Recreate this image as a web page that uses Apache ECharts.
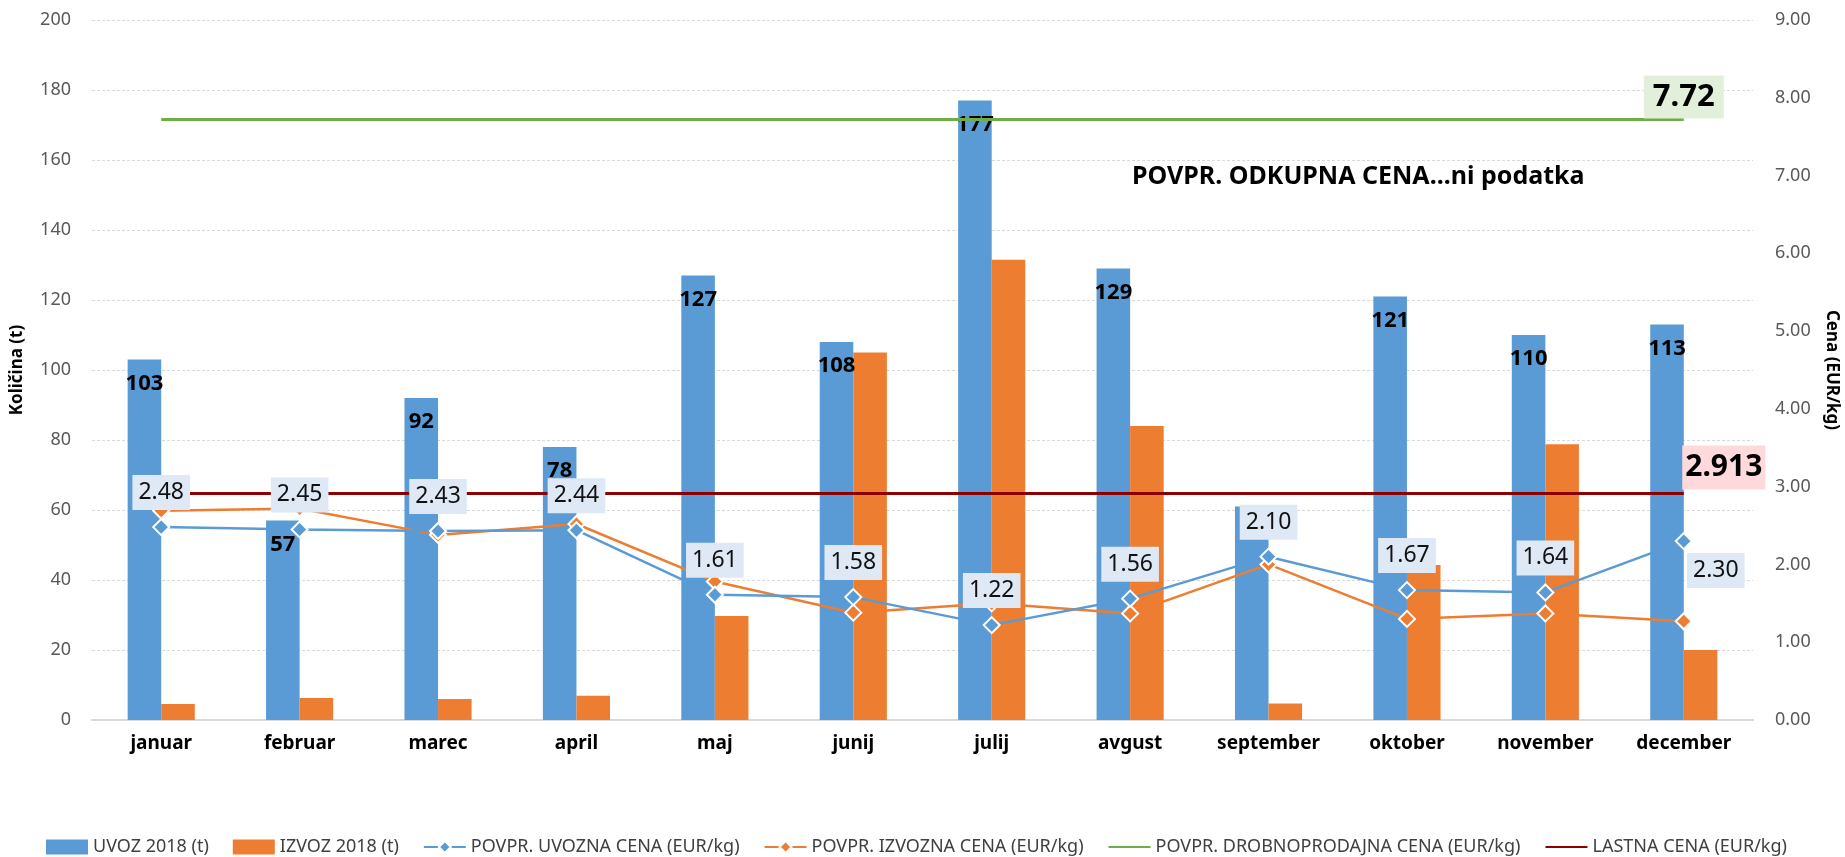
<!DOCTYPE html>
<html>
<head>
<meta charset="utf-8">
<script src="https://cdn.jsdelivr.net/npm/echarts@6/dist/echarts.min.js"></script>
<style>
  html, body { margin: 0; padding: 0; background: #fff; overflow: hidden; }
  #chart { width: 1845px; height: 857px; }
</style>
</head>
<body>
<div id="chart"></div>
<script>
const MONTHS = ['januar', 'februar', 'marec', 'april', 'maj', 'junij', 'julij', 'avgust', 'september', 'oktober', 'november', 'december']

// quantities (t)
const UVOZ   = [103, 57, 92, 78, 127, 108, 177, 129, 61, 121, 110, 113]
const IZVOZ  = [4.6, 6.3, 6.0, 6.9, 29.7, 105, 131.5, 84, 4.7, 44.3, 78.8, 20]
// bars with no value label in the reference
const UVOZ_NO_LABEL = [8]

// prices (EUR/kg)
const UVOZ_CENA  = [2.48, 2.45, 2.43, 2.44, 1.61, 1.58, 1.22, 1.56, 2.10, 1.67, 1.64, 2.30]
const IZVOZ_CENA = [2.69, 2.72, 2.38, 2.52, 1.78, 1.38, 1.50, 1.37, 2.00, 1.30, 1.37, 1.27]
const DROBNO_CENA = 7.72
const LASTNA_CENA = 2.913

const LEFT_TICKS  = { min: 0, max: 200, interval: 20 }
const RIGHT_TICKS = { min: 0, max: 9, interval: 1 }

const NOTE = 'POVPR. ODKUPNA CENA...ni podatka'

const FONT = '"Noto Sans", "Open Sans", sans-serif'
const BLUE = '#5B9BD5'
const ORANGE = '#ED7D31'
const GREEN = '#70AD47'
const DARKRED = '#8B0000'

const last = MONTHS.length - 1

const chart = echarts.init(document.getElementById('chart'), null, { renderer: 'canvas' })

const priceLabel = {
  show: true,
  position: 'top',
  distance: 8,
  fontFamily: FONT,
  fontSize: 23,
  color: '#111',
  backgroundColor: '#DEE9F5',
  padding: [6, 6],
  formatter: p => p.value.toFixed(2),
}

// flat reference line, label only on the last point
function refLine(name, value, color, label) {
  return {
    name,
    type: 'line',
    yAxisIndex: 1,
    symbol: 'circle',
    symbolSize: 0,
    itemStyle: { color },
    lineStyle: { color, width: 3 },
    data: MONTHS.map((_, i) => i === last ? { value, label } : value),
    z: 3,
  }
}

chart.setOption({
  animation: false,
  backgroundColor: '#fff',
  textStyle: { fontFamily: FONT },
  grid: { left: 92, right: 92, top: 20, bottom: 137, containLabel: false, outerBoundsMode: 'none' },
  legend: {
    top: 833,
    left: 41,
    itemWidth: 42,
    itemHeight: 15,
    itemGap: 24,
    textStyle: { fontFamily: FONT, fontSize: 18, color: '#404040' },
    data: [
      { name: 'UVOZ 2018 (t)', icon: 'rect' },
      { name: 'IZVOZ 2018 (t)', icon: 'rect' },
      'POVPR. UVOZNA CENA (EUR/kg)',
      'POVPR. IZVOZNA CENA (EUR/kg)',
      { name: 'POVPR. DROBNOPRODAJNA CENA (EUR/kg)', itemStyle: { color: 'transparent', borderWidth: 0 } },
      { name: 'LASTNA CENA (EUR/kg)', itemStyle: { color: 'transparent', borderWidth: 0 } },
    ],
  },
  graphic: [{
    type: 'text',
    left: 1132,
    top: 164,
    style: { text: NOTE, fontFamily: FONT, fontSize: 25, fontWeight: 'bold', fill: '#000' },
  }],
  xAxis: {
    type: 'category',
    data: MONTHS,
    axisTick: { show: false },
    axisLine: { lineStyle: { color: '#D9D9D9', width: 2 } },
    axisLabel: { fontFamily: FONT, fontSize: 19, fontWeight: 'bold', color: '#000', margin: 14 },
  },
  yAxis: [
    {
      type: 'value',
      ...LEFT_TICKS,
      name: 'Količina (t)',
      nameLocation: 'middle',
      nameRotate: 90,
      nameGap: 66,
      nameTextStyle: { fontFamily: FONT, fontSize: 17, fontWeight: 'bold', color: '#000' },
      axisLine: { show: false },
      axisTick: { show: false },
      axisLabel: { fontFamily: FONT, fontSize: 18, color: '#595959', margin: 21 },
      splitLine: { lineStyle: { color: '#D9D9D9', type: [3, 2] } },
    },
    {
      type: 'value',
      ...RIGHT_TICKS,
      name: 'Cena (EUR/kg)',
      nameLocation: 'middle',
      nameRotate: -90,
      nameGap: 70,
      nameTextStyle: { fontFamily: FONT, fontSize: 17, fontWeight: 'bold', color: '#000' },
      axisLine: { show: false },
      axisTick: { show: false },
      axisLabel: { fontFamily: FONT, fontSize: 18, color: '#595959', margin: 22, formatter: v => v.toFixed(2) },
      splitLine: { show: false },
    },
  ],
  series: [
    {
      name: 'UVOZ 2018 (t)',
      type: 'bar',
      barGap: '0%',
      barCategoryGap: '51.5%',
      itemStyle: { color: BLUE },
      label: {
        show: true,
        position: 'insideTop',
        distance: 13,
        fontFamily: FONT,
        fontSize: 22,
        fontWeight: 'bold',
        color: '#000',
      },
      data: UVOZ.map((v, i) => UVOZ_NO_LABEL.includes(i) ? { value: v, label: { show: false } } : v),
      z: 2,
    },
    {
      name: 'IZVOZ 2018 (t)',
      type: 'bar',
      itemStyle: { color: ORANGE },
      data: IZVOZ,
      z: 2,
    },
    refLine('POVPR. DROBNOPRODAJNA CENA (EUR/kg)', DROBNO_CENA, GREEN, {
      show: true, position: 'top', distance: 1,
      fontFamily: FONT, fontSize: 31, fontWeight: 'bold', color: '#000',
      backgroundColor: '#E2EFDA', padding: [6, 9],
      formatter: p => p.value.toFixed(2),
    }),
    refLine('LASTNA CENA (EUR/kg)', LASTNA_CENA, DARKRED, {
      show: true, position: 'top', distance: 4, offset: [40, 0],
      fontFamily: FONT, fontSize: 30, fontWeight: 'bold', color: '#000',
      backgroundColor: '#FFD9DC', padding: [7, 3],
      formatter: p => p.value.toFixed(3),
    }),
    {
      name: 'POVPR. UVOZNA CENA (EUR/kg)',
      type: 'line',
      yAxisIndex: 1,
      symbol: 'diamond',
      symbolSize: 16,
      itemStyle: { color: BLUE, borderColor: '#fff', borderWidth: 2 },
      lineStyle: { color: BLUE, width: 2.5 },
      label: priceLabel,
      data: UVOZ_CENA.map((v, i) => i === last ? {
        value: v,
        label: { position: 'bottom', distance: 3, offset: [32, 0] },
      } : v),
      z: 5,
    },
    {
      name: 'POVPR. IZVOZNA CENA (EUR/kg)',
      type: 'line',
      yAxisIndex: 1,
      symbol: 'diamond',
      symbolSize: 16,
      itemStyle: { color: ORANGE, borderColor: '#fff', borderWidth: 2 },
      lineStyle: { color: ORANGE, width: 2.5 },
      data: IZVOZ_CENA,
      z: 4,
    },
  ],
})
</script>
</body>
</html>
